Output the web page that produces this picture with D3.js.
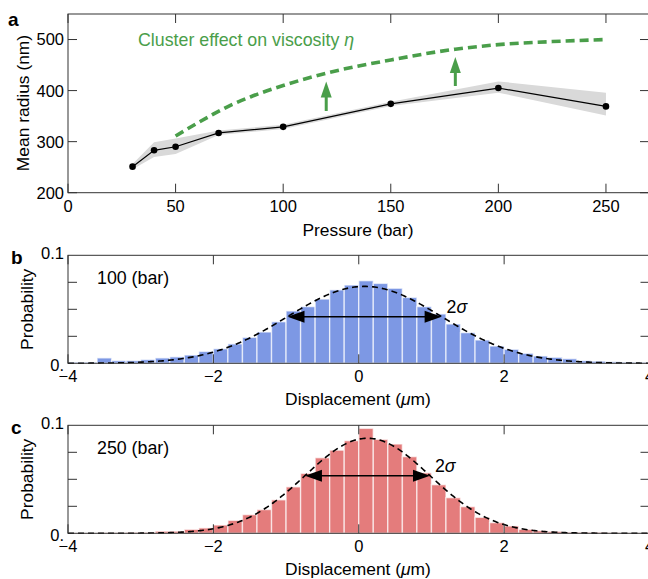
<!DOCTYPE html>
<html><head><meta charset="utf-8">
<script src="https://cdn.jsdelivr.net/npm/d3@7"></script>
<style>html,body{margin:0;padding:0;background:#fff;}svg{display:block;}</style>
</head><body>
<svg id="chart" width="648" height="579"></svg>
<script>
// ---------- Data ----------
const pressure = [30, 40, 50, 70, 100, 150, 200, 250];
const meanRadius = [251, 283, 290, 317, 329, 374, 405, 369];
const radiusLower = [246, 270, 276, 313, 325, 370, 396, 351];
const radiusUpper = [256, 299, 306, 322, 333, 378, 418, 396];

const clusterP = [50, 60, 75, 85, 100, 120, 150, 180, 200, 225, 250];
const clusterR = [311, 336, 370, 388, 410, 434, 460, 481, 490, 496, 500];
const arrowP = [120, 180];
const arrowFrom = [360, 409];
const arrowTo = [418, 466];

const pressureTicks = [0, 50, 100, 150, 200, 250];
const radiusTicks = [200, 300, 400, 500];

const binLeft = [-4.0,-3.8,-3.6,-3.4,-3.2,-3.0,-2.8,-2.6,-2.4,-2.2,
  -2.0,-1.8,-1.6,-1.4,-1.2,-1.0,-0.8,-0.6,-0.4,-0.2,
  0.0,0.2,0.4,0.6,0.8,1.0,1.2,1.4,1.6,1.8,
  2.0,2.2,2.4,2.6,2.8,3.0,3.2,3.4,3.6,3.8];
const binWidth = 0.2;
const prob100 = [0.001,0.001,0.005,0.0025,0.0025,0.0035,0.005,0.006,0.0077,0.011,
  0.0135,0.018,0.024,0.029,0.0385,0.0485,0.0525,0.0595,0.068,0.0725,
  0.0765,0.074,0.0695,0.061,0.0525,0.0457,0.0364,0.0284,0.0216,0.016,
  0.013,0.0093,0.0068,0.0056,0.0043,0.0025,0.002,0.0015,0.001,0.0008];
const prob250 = [0.0003,0.0003,0.0005,0.0005,0.0008,0.0008,0.002,0.002,0.0037,0.005,
  0.0077,0.012,0.0173,0.022,0.031,0.043,0.0555,0.07,0.077,0.0858,
  0.0972,0.087,0.0827,0.071,0.056,0.045,0.033,0.0247,0.0148,0.0099,
  0.0068,0.0037,0.0025,0.0018,0.001,0.0008,0.0008,0.0005,0.0003,0.0003];
// Gaussian fit parameters (mean, sigma, peak height)
const fit100 = {mu: 0.08, sigma: 1.06, peak: 0.0712};
const fit250 = {mu: 0.12, sigma: 0.86, peak: 0.088};

const dispTicks = [-4, -2, 0, 2, 4];
const dispTickLabels = ["\u22124", "\u22122", "0", "2", "4"];
const probMinorTicks = [0.025, 0.05, 0.075];
const probTickLabels = [{v: 0.1, t: "0.1"}, {v: 0, t: "0."}];

// ---------- Drawing ----------
const svg = d3.select("#chart");
const FONT = "'Liberation Sans', Arial, Helvetica, sans-serif";
const AX = "#333";
const TL = 9;
const FS_TICK = 16.5, FS_TITLE = 17.4, FS_NOTE = 17.8;

// Panel a
const xA = d3.scaleLinear().domain([0, 270]).range([68, 649]);
const yA = d3.scaleLinear().domain([200, 550]).range([192.7, 14]);
const gA = svg.append("g");

const bandData = pressure.map((p, i) => ({p, lo: radiusLower[i], hi: radiusUpper[i]}));
gA.append("path").datum(bandData)
  .attr("d", d3.area().x(d => xA(d.p)).y0(d => yA(d.lo)).y1(d => yA(d.hi)))
  .attr("fill", "#d9d9d9");

const ptData = pressure.map((p, i) => ({p, r: meanRadius[i]}));
gA.append("path").datum(ptData)
  .attr("d", d3.line().x(d => xA(d.p)).y(d => yA(d.r)))
  .attr("fill", "none").attr("stroke", "#000").attr("stroke-width", 1.2);
gA.selectAll("circle.pt").data(ptData).join("circle")
  .attr("cx", d => xA(d.p)).attr("cy", d => yA(d.r)).attr("r", 3.3).attr("fill", "#000");

const GREEN = "#4a9e4a";
const clData = clusterP.map((p, i) => ({p, r: clusterR[i]}));
gA.append("path").datum(clData)
  .attr("d", d3.line().curve(d3.curveMonotoneX).x(d => xA(d.p)).y(d => yA(d.r)))
  .attr("fill", "none").attr("stroke", GREEN).attr("stroke-width", 3.6)
  .attr("stroke-dasharray", "9,5");

arrowP.forEach((p, i) => {
  const x = xA(p), y0 = yA(arrowFrom[i]), y1 = yA(arrowTo[i]);
  gA.append("line").attr("x1", x).attr("x2", x).attr("y1", y0).attr("y2", y1 + 12)
    .attr("stroke", GREEN).attr("stroke-width", 3);
  gA.append("path").attr("d", `M${x},${y1} L${x - 5.5},${y1 + 16} L${x + 5.5},${y1 + 16} Z`)
    .attr("fill", GREEN);
});

gA.append("text").attr("x", 138).attr("y", 46).attr("font-family", FONT)
  .attr("font-size", FS_NOTE).attr("fill", GREEN)
  .html('Cluster effect on viscosity <tspan font-style="italic">\u03b7</tspan>');

// frame & ticks a
const [ax0, ax1] = xA.range(), [ay0, ay1] = yA.range();
gA.append("rect").attr("x", ax0).attr("y", ay1).attr("width", ax1 - ax0).attr("height", ay0 - ay1)
  .attr("fill", "none").attr("stroke", AX).attr("stroke-width", 1);
pressureTicks.forEach(v => {
  const x = xA(v);
  gA.append("line").attr("x1", x).attr("x2", x).attr("y1", ay1).attr("y2", ay1 + TL).attr("stroke", AX);
  gA.append("line").attr("x1", x).attr("x2", x).attr("y1", ay0).attr("y2", ay0 - TL).attr("stroke", AX);
  gA.append("text").attr("x", x).attr("y", 212).attr("text-anchor", "middle")
    .attr("font-family", FONT).attr("font-size", FS_TICK).text(v);
});
radiusTicks.forEach(v => {
  const y = yA(v);
  gA.append("line").attr("x1", ax0).attr("x2", ax0 + TL).attr("y1", y).attr("y2", y).attr("stroke", AX);
  gA.append("line").attr("x1", ax1).attr("x2", ax1 - TL).attr("y1", y).attr("y2", y).attr("stroke", AX);
  gA.append("text").attr("x", 64).attr("y", y).attr("dy", "0.36em").attr("text-anchor", "end")
    .attr("font-family", FONT).attr("font-size", FS_TICK).text(v);
});
gA.append("text").attr("x", 358).attr("y", 236).attr("text-anchor", "middle")
  .attr("font-family", FONT).attr("font-size", FS_TITLE).text("Pressure (bar)");
gA.append("text").attr("transform", "translate(29,103) rotate(-90)").attr("text-anchor", "middle")
  .attr("font-family", FONT).attr("font-size", FS_TITLE).text("Mean radius (nm)");
gA.append("text").attr("x", 8).attr("y", 26).attr("font-family", FONT).attr("font-weight", "bold")
  .attr("font-size", 19).text("a");

// Histogram panels
function histPanel(opts) {
  const {top, bottom, probs, fit, fill, stroke, label, letter} = opts;
  const x = d3.scaleLinear().domain([-4, 4]).range([68, 649.5]);
  const y = d3.scaleLinear().domain([0, 0.1]).range([bottom, top]);
  const g = svg.append("g");
  g.selectAll("rect.bar").data(binLeft.map((b, i) => ({b, v: probs[i]}))).join("rect")
    .attr("x", d => x(d.b)).attr("width", d => x(d.b + binWidth) - x(d.b))
    .attr("y", d => y(d.v)).attr("height", d => y(0) - y(d.v))
    .attr("fill", fill).attr("stroke", stroke).attr("stroke-width", 1.4);

  const xs = d3.range(-4, 4.001, 0.02);
  g.append("path").datum(xs)
    .attr("d", d3.line().x(d => x(d)).y(d => y(fit.peak * Math.exp(-0.5 * Math.pow((d - fit.mu) / fit.sigma, 2)))))
    .attr("fill", "none").attr("stroke", "#000").attr("stroke-width", 1.6).attr("stroke-dasharray", "6,4");

  // 2 sigma arrow
  const ya = y(fit.peak * Math.exp(-0.5));
  const xl = x(fit.mu - fit.sigma), xr = x(fit.mu + fit.sigma);
  g.append("line").attr("x1", xl + 10).attr("x2", xr - 10).attr("y1", ya).attr("y2", ya)
    .attr("stroke", "#000").attr("stroke-width", 1.5);
  g.append("path").attr("d", `M${xl},${ya} L${xl + 17},${ya - 6} L${xl + 17},${ya + 6} Z`).attr("fill", "#000");
  g.append("path").attr("d", `M${xr},${ya} L${xr - 17},${ya - 6} L${xr - 17},${ya + 6} Z`).attr("fill", "#000");
  g.append("text").attr("x", xr + 5).attr("y", ya - 4).attr("font-family", FONT).attr("font-size", FS_NOTE)
    .html('2<tspan font-style="italic">\u03c3</tspan>');

  // frame and ticks
  const [x0, x1] = x.range();
  g.append("rect").attr("x", x0).attr("y", top).attr("width", x1 - x0).attr("height", bottom - top)
    .attr("fill", "none").attr("stroke", AX).attr("stroke-width", 1);
  dispTicks.forEach((v, i) => {
    const xx = x(v);
    g.append("line").attr("x1", xx).attr("x2", xx).attr("y1", top).attr("y2", top + TL).attr("stroke", AX);
    g.append("line").attr("x1", xx).attr("x2", xx).attr("y1", bottom).attr("y2", bottom - TL).attr("stroke", AX);
    g.append("text").attr("x", xx).attr("y", bottom + 19).attr("text-anchor", "middle")
      .attr("font-family", FONT).attr("font-size", FS_TICK).text(dispTickLabels[i]);
  });
  probMinorTicks.forEach(v => {
    const yy = y(v);
    g.append("line").attr("x1", x0).attr("x2", x0 + TL).attr("y1", yy).attr("y2", yy).attr("stroke", AX);
    g.append("line").attr("x1", x1).attr("x2", x1 - TL).attr("y1", yy).attr("y2", yy).attr("stroke", AX);
  });
  probTickLabels.forEach(d => {
    g.append("text").attr("x", 64).attr("y", y(d.v)).attr("dy", d.v === 0 ? "0.45em" : "0.2em")
      .attr("text-anchor", "end").attr("font-family", FONT).attr("font-size", FS_TICK).text(d.t);
  });
  g.append("text").attr("x", 358).attr("y", bottom + 42).attr("text-anchor", "middle")
    .attr("font-family", FONT).attr("font-size", FS_TITLE)
    .html('Displacement (<tspan font-style="italic">\u03bc</tspan>m)');
  g.append("text").attr("transform", `translate(33,${(top + bottom) / 2}) rotate(-90)`).attr("text-anchor", "middle")
    .attr("font-family", FONT).attr("font-size", FS_TITLE).text("Probability");
  g.append("text").attr("x", 97).attr("y", top + 29).attr("font-family", FONT).attr("font-size", FS_NOTE).text(label);
  g.append("text").attr("x", 11).attr("y", top + 9).attr("font-family", FONT).attr("font-weight", "bold")
    .attr("font-size", 19).text(letter);
}

histPanel({top: 255.3, bottom: 363.3, probs: prob100, fit: fit100,
  fill: "#7d98e4", stroke: "rgba(255,255,255,0.65)", label: "100 (bar)", letter: "b"});
histPanel({top: 425.3, bottom: 533.3, probs: prob250, fit: fit250,
  fill: "#e47c7c", stroke: "rgba(255,255,255,0.65)", label: "250 (bar)", letter: "c"});
</script>
</body></html>
